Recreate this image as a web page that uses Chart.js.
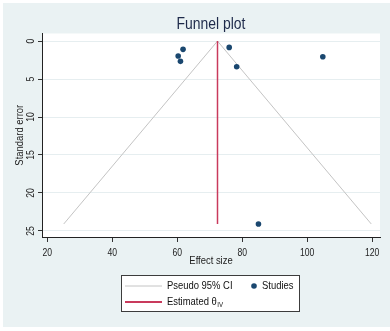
<!DOCTYPE html>
<html><head><meta charset="utf-8">
<script src="https://cdn.jsdelivr.net/npm/chart.js@4.4.0/dist/chart.umd.min.js"></script>
<style>html,body{margin:0;padding:0;background:#fff;}canvas{display:block;}</style>
</head><body>
<canvas id="c" width="390" height="331"></canvas>
<script>
// ---- data ----
const studyEffect = [61.8, 60.3, 61.0, 76.0, 78.3, 104.8, 85.0];
const studySE     = [1.09, 1.97, 2.67, 0.83, 3.38, 2.06, 24.08];
const ciEffect    = [25.1, 72.4, 119.7];
const ciSE        = [24.08, 0, 24.08];
const estEffect   = [72.4, 72.4];
const estSE       = [0, 24.08];
const xTicks = [20, 40, 60, 80, 100, 120];
const yTicks = [0, 5, 10, 15, 20, 25];
const labels = { ci: 'Pseudo 95% CI', studies: 'Studies', est: 'Estimated \u03B8', estSub: 'IV' };

const FAM = "'Liberation Sans Narrow','Arial Narrow','Liberation Sans',Arial,sans-serif";
const NARROW = 0.82; // emulate the condensed face of the original
const toPts = (xs, ys) => xs.map((v, i) => ({ x: v, y: ys[i] }));

const canvas = document.getElementById('c');
const ctx2d = canvas.getContext('2d');
const origFill = ctx2d.fillText;
ctx2d.fillText = function (t, x, y, mw) {
  this.save();
  this.translate(x, y);
  this.scale(NARROW, 1);
  if (mw === undefined) origFill.call(this, t, 0, 0);
  else origFill.call(this, t, 0, 0, mw / NARROW);
  this.restore();
};

const bgPlugin = {
  id: 'bg',
  beforeDraw(chart) {
    const { ctx, chartArea: a } = chart;
    ctx.save();
    ctx.fillStyle = '#ffffff';
    ctx.fillRect(0, 0, chart.width, chart.height);
    ctx.fillStyle = '#eaf2f3';
    ctx.fillRect(3, 3, chart.width - 3, chart.height - 7);
    ctx.fillStyle = '#ffffff';
    ctx.fillRect(a.left, a.top, a.right - a.left, a.bottom - a.top);
    ctx.restore();
  }
};

const boxLegend = {
  id: 'boxLegend',
  afterDraw(chart, args, opts) {
    const { ctx } = chart;
    const b = opts.box;
    ctx.save();
    ctx.fillStyle = '#ffffff';
    ctx.fillRect(b.x, b.y, b.w, b.h);
    ctx.strokeStyle = '#3c3c3c';
    ctx.lineWidth = 1;
    ctx.strokeRect(b.x + 0.5, b.y + 0.5, b.w, b.h);
    const ds = chart.data.datasets;
    ds.forEach((d, i) => {
      const col = i % 2, row = Math.floor(i / 2);
      const x0 = b.x + opts.colX[col];
      const y0 = b.y + opts.rowY[row];
      let tx;
      if (d.legendKind === 'line') {
        ctx.strokeStyle = d.borderColor;
        ctx.lineWidth = d.legendLineWidth || d.borderWidth;
        ctx.beginPath();
        ctx.moveTo(x0, y0);
        ctx.lineTo(x0 + 37, y0);
        ctx.stroke();
        tx = x0 + 42;
      } else {
        ctx.fillStyle = d.backgroundColor;
        ctx.beginPath();
        ctx.arc(x0 + 4, y0, d.pointRadius, 0, Math.PI * 2);
        ctx.fill();
        tx = x0 + 12;
      }
      ctx.fillStyle = '#111111';
      ctx.font = "11.5px " + FAM;
      ctx.textBaseline = 'middle';
      ctx.textAlign = 'left';
      ctx.fillText(d.label, tx, y0);
      if (d.sub) {
        const w = ctx.measureText(d.label).width * NARROW;
        ctx.font = "7.5px " + FAM;
        ctx.fillText(d.sub, tx + w + 0.5, y0 + 3);
      }
    });
    ctx.restore();
  }
};

new Chart(canvas, {
  type: 'scatter',
  data: {
    datasets: [
      { label: labels.ci, data: toPts(ciEffect, ciSE), showLine: true, borderColor: '#c4c4c4', borderWidth: 1,
        pointRadius: 0, fill: false, tension: 0, legendKind: 'line', order: 3 },
      { label: labels.studies, data: toPts(studyEffect, studySE), backgroundColor: '#1a476f', borderWidth: 0,
        pointRadius: 2.8, pointHoverRadius: 2.8, legendKind: 'point', order: 1 },
      { label: labels.est, sub: labels.estSub, data: toPts(estEffect, estSE), showLine: true, borderColor: '#c93a5c',
        borderWidth: 1.5, legendLineWidth: 2, pointRadius: 0, fill: false, tension: 0, legendKind: 'line', order: 2 }
    ]
  },
  options: {
    responsive: false,
    animation: false,
    devicePixelRatio: 1,
    layout: { padding: { top: 0, left: 0, right: 10, bottom: 62 } },
    plugins: {
      legend: { display: false },
      tooltip: { enabled: false },
      title: { display: true, text: 'Funnel plot', fullSize: false, color: '#1e2a4a',
        font: { family: FAM, size: 17, weight: 'normal', lineHeight: 1 }, padding: { top: 16, bottom: 0.5 } },
      boxLegend: { box: { x: 121, y: 275, w: 178, h: 36 }, colX: [4, 129], rowY: [11, 27] }
    },
    scales: {
      x: {
        type: 'linear', min: 18.4, max: 122.4,
        afterBuildTicks: s => { s.ticks = xTicks.map(v => ({ value: v })); },
        afterFit: s => { s.height = 32; },
        grid: { drawOnChartArea: false, tickColor: '#333333', tickLength: 5, tickWidth: 1 },
        border: { color: '#222222', width: 1 },
        ticks: { padding: 5, maxRotation: 0, autoSkip: false, color: '#222222', font: { family: FAM, size: 10.5 } },
        title: { display: true, text: 'Effect size', color: '#222222', font: { family: FAM, size: 11.5 }, padding: { top: 0, bottom: 1 } }
      },
      y: {
        type: 'linear', reverse: true, min: -1, max: 25.8,
        afterBuildTicks: s => { s.ticks = yTicks.map(v => ({ value: v })); },
        afterFit: s => { s.width = 42; },
        grid: { color: '#e6eef0', lineWidth: 1, tickColor: '#333333', tickLength: 4, tickWidth: 1 },
        border: { color: '#222222', width: 1 },
        ticks: { minRotation: 90, maxRotation: 90, crossAlign: 'center', padding: 1, autoSkip: false, color: '#222222',
          font: { family: FAM, size: 10.5 } },
        title: { display: true, text: 'Standard error', color: '#222222', font: { family: FAM, size: 11.5 }, padding: { top: 13, bottom: 0 } }
      }
    }
  },
  plugins: [bgPlugin, boxLegend]
});
</script>
</body></html>
